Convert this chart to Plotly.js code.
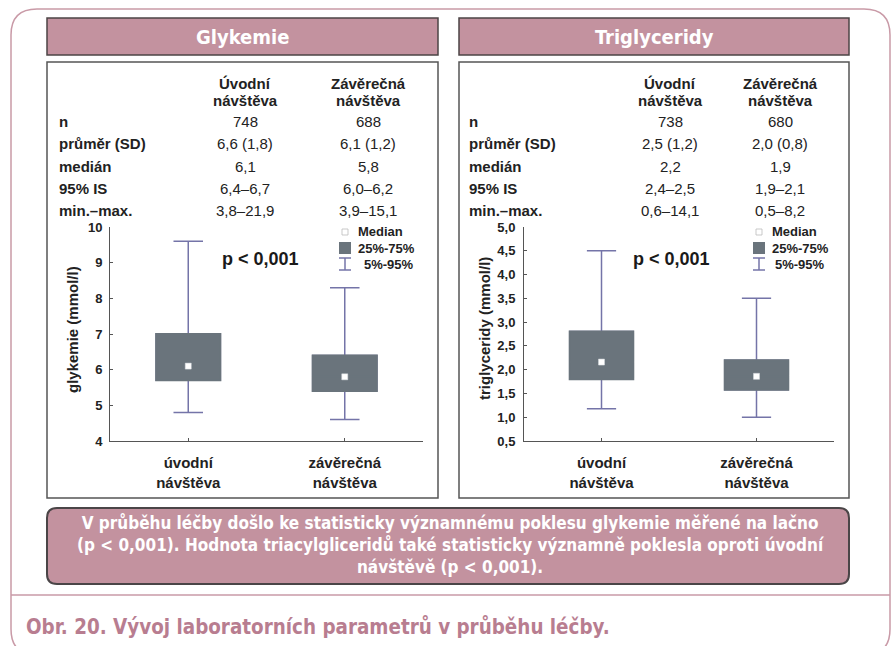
<!DOCTYPE html>
<html>
<head>
<meta charset="utf-8">
<script src="https://cdn.plot.ly/plotly-3.0.1.min.js"></script>
<style>html,body{margin:0;padding:0;background:#fff;}#chart{width:896px;height:646px;}</style>
</head>
<body>
<div id="chart"></div>
<script>
// ---------- data ----------
const categories = ['úvodní<br>návštěva', 'závěrečná<br>návštěva'];

const glykP5  = [4.8, 4.6];
const glykQ1  = [5.7, 5.4];
const glykMed = [6.1, 5.8];
const glykQ3  = [7.0, 6.4];
const glykP95 = [9.6, 8.3];

const tgP5  = [1.18, 1.0];
const tgQ1  = [1.8, 1.58];
const tgMed = [2.16, 1.86];
const tgQ3  = [2.8, 2.2];
const tgP95 = [4.5, 3.5];

const colHeadTop = ['Úvodní', 'Závěrečná'];
const colHeadBottom = ['návštěva', 'návštěva'];
const rowLabels = ['n', 'průměr (SD)', 'medián', '95% IS', 'min.–max.'];
const glykUvodni  = ['748', '6,6 (1,8)', '6,1', '6,4–6,7', '3,8–21,9'];
const glykZaver   = ['688', '6,1 (1,2)', '5,8', '6,0–6,2', '3,9–15,1'];
const tgUvodni    = ['738', '2,5 (1,2)', '2,2', '2,4–2,5', '0,6–14,1'];
const tgZaver     = ['680', '2,0 (0,8)', '1,9', '1,9–2,1', '0,5–8,2'];

const legendLabels = ['Median', '25%-75%', '5%-95%'];
const panelTitles = ['Glykemie', 'Triglyceridy'];
const yTitles = ['glykemie (mmol/l)', 'triglyceridy (mmol/l)'];
const pText = 'p < 0,001';
const summaryText = 'V průběhu léčby došlo ke statisticky významnému poklesu glykemie měřené na lačno<br>(p < 0,001). Hodnota triacylgliceridů také statisticky významně poklesla oproti úvodní<br>návštěvě (p < 0,001).';
const captionText = 'Obr. 20. Vývoj laboratorních parametrů v průběhu léčby.';

// ---------- style ----------
const W = 896, H = 646;
const X = v => v / W, Y = v => 1 - v / H;
const PINK = '#c3929f';
const FRAME = '#c99aa7';
const BOXC = '#6a747c';
const WHISK = '#7474a8';
const AXC = '#555555';
const SANS = 'Liberation Sans, Arial, sans-serif';
const NARROW = 'Liberation Sans Narrow, Arial Narrow, DejaVu Sans Condensed, sans-serif';

function rr(x0, y0, x1, y1, r) {
  return `M${X(x0 + r)},${Y(y0)} L${X(x1 - r)},${Y(y0)} Q${X(x1)},${Y(y0)} ${X(x1)},${Y(y0 + r)} ` +
         `L${X(x1)},${Y(y1 - r)} Q${X(x1)},${Y(y1)} ${X(x1 - r)},${Y(y1)} L${X(x0 + r)},${Y(y1)} ` +
         `Q${X(x0)},${Y(y1)} ${X(x0)},${Y(y1 - r)} L${X(x0)},${Y(y0 + r)} Q${X(x0)},${Y(y0)} ${X(x0 + r)},${Y(y0)} Z`;
}

function boxTraces(xa, ya, p5, q1, med, q3, p95) {
  return [
    { type: 'box', xaxis: xa, yaxis: ya, x: categories, q1: q1, median: med, q3: q3,
      lowerfence: p5, upperfence: p95, boxpoints: false, width: 0.41, whiskerwidth: 0.46,
      line: { color: WHISK, width: 1.5 }, fillcolor: 'rgba(0,0,0,0)', hoverinfo: 'skip' },
    { type: 'box', xaxis: xa, yaxis: ya, x: categories, q1: q1, median: med, q3: q3,
      lowerfence: q1, upperfence: q3, boxpoints: false, width: 0.41, whiskerwidth: 0,
      line: { color: BOXC, width: 2 }, fillcolor: BOXC, hoverinfo: 'skip' },
    { type: 'scatter', mode: 'markers', xaxis: xa, yaxis: ya, x: categories, y: med,
      marker: { symbol: 'square', size: 6, color: '#ffffff', line: { color: '#d8dde0', width: 0.5 } },
      hoverinfo: 'skip' }
  ];
}

const data = [
  ...boxTraces('x', 'y', glykP5, glykQ1, glykMed, glykQ3, glykP95),
  ...boxTraces('x2', 'y2', tgP5, tgQ1, tgMed, tgQ3, tgP95)
];

const axBase = {
  showline: true, linecolor: AXC, linewidth: 1, mirror: false,
  ticks: 'inside', ticklen: 3, tickcolor: AXC, showgrid: false, zeroline: false, fixedrange: true
};
const xTick = { family: SANS, size: 15, weight: 700, color: '#222' };
const yTick = { family: SANS, size: 13, weight: 700, color: '#222' };

const layout = {
  width: W, height: H,
  margin: { l: 0, r: 0, t: 0, b: 0 },
  paper_bgcolor: '#ffffff', plot_bgcolor: 'rgba(0,0,0,0)',
  showlegend: false, boxmode: 'overlay', separators: ',.',
  xaxis:  Object.assign({}, axBase, { domain: [X(110), X(423)], anchor: 'y', type: 'category',
           range: [-0.5, 1.5], tickfont: xTick, ticklabelstandoff: 8 }),
  yaxis:  Object.assign({}, axBase, { domain: [Y(441), Y(227)], anchor: 'x', range: [4, 10], dtick: 1,
           tickfont: yTick, ticklabelstandoff: 4 }),
  xaxis2: Object.assign({}, axBase, { domain: [X(524), X(834)], anchor: 'y2', type: 'category',
           range: [-0.5, 1.5], tickfont: xTick, ticklabelstandoff: 8 }),
  yaxis2: Object.assign({}, axBase, { domain: [Y(441), Y(227)], anchor: 'x2', range: [0.5, 5.0], dtick: 0.5,
           tickformat: '.1f', tickfont: yTick, ticklabelstandoff: 5 }),
  shapes: [],
  annotations: []
};

const S = layout.shapes, A = layout.annotations;
// outer frame and separator
S.push({ type: 'path', xref: 'paper', yref: 'paper', path: rr(11, 9, 890, 655, 26),
         line: { color: FRAME, width: 1.5 }, fillcolor: 'rgba(0,0,0,0)', layer: 'below' });
S.push({ type: 'line', xref: 'paper', yref: 'paper', x0: X(11), x1: X(890), y0: Y(595), y1: Y(595),
         line: { color: FRAME, width: 1.5 }, layer: 'below' });

// panels
const panels = [[47, 438], [459, 849]];
panels.forEach((p, i) => {
  S.push({ type: 'rect', xref: 'paper', yref: 'paper', x0: X(p[0]), x1: X(p[1]), y0: Y(55), y1: Y(18),
           fillcolor: PINK, line: { color: '#4c4446', width: 1.5 }, layer: 'below' });
  S.push({ type: 'rect', xref: 'paper', yref: 'paper', x0: X(p[0]), x1: X(p[1]), y0: Y(498), y1: Y(62),
           fillcolor: '#ffffff', line: { color: '#555555', width: 1.5 }, layer: 'below' });
  A.push({ xref: 'paper', yref: 'paper', x: X((p[0] + p[1]) / 2), y: Y(37), text: panelTitles[i],
           showarrow: false, xanchor: 'center', yanchor: 'middle',
           font: { family: NARROW, size: 20, weight: 700, color: '#ffffff' } });
});

// summary box
S.push({ type: 'path', xref: 'paper', yref: 'paper', path: rr(47, 508, 849, 584, 10),
         fillcolor: PINK, line: { color: '#4a4547', width: 2 }, layer: 'below' });
A.push({ xref: 'paper', yref: 'paper', x: X(450), y: Y(544), text: summaryText, showarrow: false,
         xanchor: 'center', yanchor: 'middle', align: 'center',
         font: { family: NARROW, size: 17, weight: 700, color: '#ffffff' } });
A.push({ xref: 'paper', yref: 'paper', x: X(24), y: Y(627), text: captionText, showarrow: false,
         xanchor: 'left', yanchor: 'middle',
         font: { family: NARROW, size: 20.4, weight: 700, color: '#b87d90' } });

// tables
const rowY = [122, 143.5, 166, 188.5, 210.5];
const tables = [
  { lab: 57, c: [245, 368], vals: [glykUvodni, glykZaver] },
  { lab: 467, c: [670, 780], vals: [tgUvodni, tgZaver] }
];
const tFont = { family: SANS, size: 15, color: '#222' };
tables.forEach(t => {
  t.c.forEach((cx, j) => {
    A.push({ xref: 'paper', yref: 'paper', x: X(cx), y: Y(84), text: colHeadTop[j], showarrow: false,
             xanchor: 'center', yanchor: 'middle', font: Object.assign({}, tFont, { weight: 700 }) });
    A.push({ xref: 'paper', yref: 'paper', x: X(cx), y: Y(100.5), text: colHeadBottom[j], showarrow: false,
             xanchor: 'center', yanchor: 'middle', font: Object.assign({}, tFont, { weight: 700 }) });
    t.vals[j].forEach((v, k) => {
      A.push({ xref: 'paper', yref: 'paper', x: X(cx), y: Y(rowY[k]), text: v, showarrow: false,
               xanchor: 'center', yanchor: 'middle', font: tFont });
    });
  });
  rowLabels.forEach((l, k) => {
    A.push({ xref: 'paper', yref: 'paper', x: X(t.lab), y: Y(rowY[k]), text: l, showarrow: false,
             xanchor: 'left', yanchor: 'middle', font: Object.assign({}, tFont, { weight: 700 }) });
  });
});

// y titles and p values
[[72, 330, 0], [484, 329, 1]].forEach(([x, y, i]) => {
  A.push({ xref: 'paper', yref: 'paper', x: X(x), y: Y(y), text: yTitles[i], textangle: -90, showarrow: false,
           xanchor: 'center', yanchor: 'middle', font: { family: SANS, size: 15, weight: 700, color: '#222' } });
});
[[260, 259], [671, 259]].forEach(([x, y]) => {
  A.push({ xref: 'paper', yref: 'paper', x: X(x), y: Y(y), text: pText, showarrow: false,
           xanchor: 'center', yanchor: 'middle', font: { family: SANS, size: 18, weight: 700, color: '#1a1a1a' } });
});

// legends
const legs = [{ mx: 345, tx: 356, tx3: 362 }, { mx: 759, tx: 770, tx3: 773 }];
const lFont = { family: SANS, size: 13, weight: 700, color: '#222' };
legs.forEach(g => {
  S.push({ type: 'rect', xref: 'paper', yref: 'paper', x0: X(g.mx - 3), x1: X(g.mx + 3), y0: Y(235), y1: Y(229),
           fillcolor: '#ffffff', line: { color: '#bbbbbb', width: 0.8 } });
  S.push({ type: 'rect', xref: 'paper', yref: 'paper', x0: X(g.mx - 6), x1: X(g.mx + 6), y0: Y(254), y1: Y(242),
           fillcolor: BOXC, line: { width: 0 } });
  S.push({ type: 'line', xref: 'paper', yref: 'paper', x0: X(g.mx), x1: X(g.mx), y0: Y(258), y1: Y(270),
           line: { color: WHISK, width: 1.5 } });
  S.push({ type: 'line', xref: 'paper', yref: 'paper', x0: X(g.mx - 6), x1: X(g.mx + 6), y0: Y(258), y1: Y(258),
           line: { color: WHISK, width: 1.5 } });
  S.push({ type: 'line', xref: 'paper', yref: 'paper', x0: X(g.mx - 6), x1: X(g.mx + 6), y0: Y(270), y1: Y(270),
           line: { color: WHISK, width: 1.5 } });
  [[g.tx, 232], [g.tx, 248], [g.tx3, 264]].forEach(([x, y], k) => {
    A.push({ xref: 'paper', yref: 'paper', x: X(x), y: Y(y), text: legendLabels[k], showarrow: false,
             xanchor: 'left', yanchor: 'middle', font: lFont });
  });
});

Plotly.newPlot('chart', data, layout, { staticPlot: true, displayModeBar: false });
</script>
</body>
</html>
